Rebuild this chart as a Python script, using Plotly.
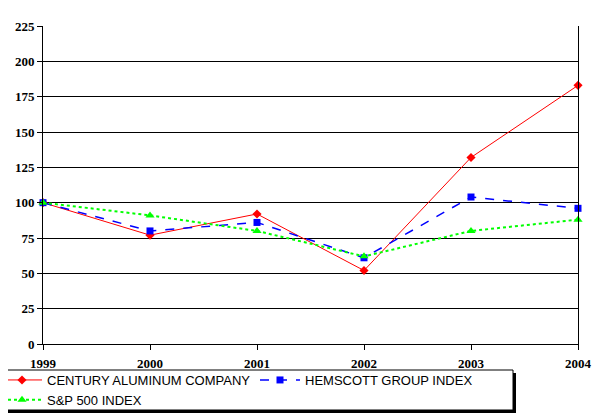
import plotly.graph_objects as go

years = [1999, 2000, 2001, 2002, 2003, 2004]
century = [100, 77, 92, 52, 132, 183]
hemscott = [100, 80, 86, 61, 104, 96]
sp500 = [100, 91, 80, 62, 80, 88]
y_ticks = [0, 25, 50, 75, 100, 125, 150, 175, 200, 225]

# page has an 8px body margin, so the figure is drawn at offset (8, 8)
OFF = 8
W, H = 607 - OFF, 416 - OFF
L, R, T, B = 43 - OFF, 29, 26 - OFF, 72
pw, ph = W - L - R, H - T - B

def px2paper(x, y):
    # x, y in page pixels
    x -= OFF
    y -= OFF
    return (x - L) / pw, (H - B - y) / ph

fig = go.Figure()
fig.add_trace(go.Scatter(x=years, y=century, name="CENTURY ALUMINUM COMPANY",
                         mode="lines+markers", cliponaxis=False,
                         line=dict(color="#FF0000", width=1),
                         marker=dict(symbol="diamond", size=7, color="#FF0000")))
fig.add_trace(go.Scatter(x=years, y=hemscott, name="HEMSCOTT GROUP INDEX",
                         mode="lines+markers", cliponaxis=False,
                         line=dict(color="#0000FF", width=1.5, dash="dash"),
                         marker=dict(symbol="square", size=7, color="#0000FF")))
fig.add_trace(go.Scatter(x=years, y=sp500, name="S&P 500 INDEX",
                         mode="lines+markers", cliponaxis=False,
                         line=dict(color="#00FF00", width=2, dash="dot"),
                         marker=dict(symbol="triangle-up", size=8, color="#00FF00")))

# legend box + shadow
x0, y0 = px2paper(5, 370)
x1, y1 = px2paper(513, 410)
sx0, sy0 = px2paper(8, 373)
sx1, sy1 = px2paper(516, 413)
fig.add_shape(type="rect", xref="paper", yref="paper", x0=sx0, y0=sy0, x1=sx1, y1=sy1,
              fillcolor="black", line=dict(width=0), layer="above")
fig.add_shape(type="rect", xref="paper", yref="paper", x0=x0, y0=y0, x1=x1, y1=y1,
              fillcolor="white", line=dict(color="black", width=1), layer="above")

lx, ly = px2paper(-3, 365)
fig.update_layout(
    width=W, height=H,
    margin=dict(l=L, r=R, t=T, b=B, autoexpand=False),
    paper_bgcolor="white", plot_bgcolor="white",
    showlegend=True,
    legend=dict(orientation="h", x=lx, y=ly, xanchor="left", yanchor="top",
                font=dict(family="Liberation Sans, Arial", size=13, color="black"),
                bgcolor="rgba(0,0,0,0)", borderwidth=0,
                entrywidth=203, entrywidthmode="pixels",
                tracegroupgap=0, itemwidth=40),
    xaxis=dict(range=[1999, 2004], tickvals=years, ticktext=[str(y) for y in years],
               showgrid=False, zeroline=False, showline=True, linecolor="black", linewidth=1,
               ticks="outside", ticklen=5, tickcolor="black", ticklabelstandoff=2,
               tickfont=dict(family="Liberation Serif", size=13, color="black", weight="bold")),
    yaxis=dict(range=[0, 225], tickvals=y_ticks, showgrid=True, gridcolor="black", gridwidth=1,
               zeroline=False, showline=True, linecolor="black", linewidth=1, mirror=True,
               ticks="outside", ticklen=5, tickcolor="black",
               tickfont=dict(family="Liberation Serif", size=13, color="black", weight="bold")),
)

fig.write_html("out.html")
